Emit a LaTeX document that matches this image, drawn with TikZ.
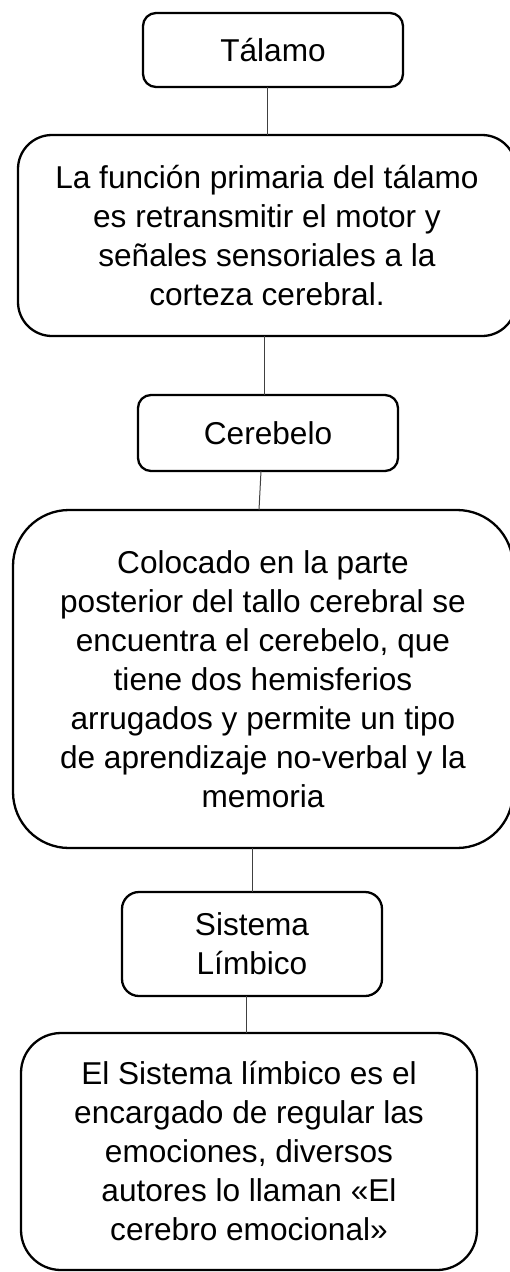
\documentclass[tikz,border=0pt]{standalone}
\usepackage{fontspec}
\setmainfont{Liberation Sans}
\usepackage{tikz}
\usetikzlibrary{positioning}
\tikzstyle{title} = [rectangle, rounded corners=13pt, minimum width=260pt, text centered, draw=black, line width=2.3pt, outer sep=0pt]
\tikzstyle{textbox} = [rectangle, align=center, draw=black, line width=2.3pt, outer sep=0pt]
\tikzstyle{link} = [draw=black!75, line width=1pt]

\begin{document}
\begin{tikzpicture}[font={\fontsize{31.6pt}{39pt}\selectfont}]
    \useasboundingbox (0,0) rectangle (510pt,-1272pt);
    \node (talamo) [title, minimum height=74pt] at (273pt,-50pt) {Tálamo};
    \node (funcion) [textbox, minimum width=498pt, minimum height=201pt, rounded corners=34pt, below=48pt of talamo, xshift=-6pt] {La función primaria del tálamo\\es retransmitir el motor y\\señales sensoriales a la\\corteza cerebral.};
    \node (cerebelo) [title, minimum height=76pt, below=59pt of funcion, xshift=1pt] {Cerebelo};
    \node (colocado) [textbox, minimum width=500pt, minimum height=338pt, rounded corners=56pt, below=39pt of cerebelo, xshift=-5pt] {Colocado en la parte\\posterior del tallo cerebral se\\encuentra el cerebelo, que\\tiene dos hemisferios\\arrugados y permite un tipo\\de aprendizaje no-verbal y la\\memoria};
    \node (sistema) [title, minimum height=104pt, rounded corners=17pt, align=center, below=44pt of colocado, xshift=-11pt] {Sistema\\Límbico};
    \node (encargado) [textbox, minimum width=456pt, minimum height=237pt, rounded corners=40pt, below=37pt of sistema, xshift=-3pt] {El Sistema límbico es el\\encargado de regular las\\emociones, diversos\\autores lo llaman «El\\cerebro emocional»};

    \draw [link] ([xshift=-6pt]talamo.south) -- (funcion.north);
    \draw [link] ([xshift=-3pt]funcion.south) -- ([xshift=-4pt]cerebelo.north);
    \draw [link] ([xshift=-7pt]cerebelo.south) -- ([xshift=-4pt]colocado.north);
    \draw [link] ([xshift=-11pt]colocado.south) -- (sistema.north);
    \draw [link] ([xshift=-6pt]sistema.south) -- ([xshift=-3pt]encargado.north);
\end{tikzpicture}
\end{document}
